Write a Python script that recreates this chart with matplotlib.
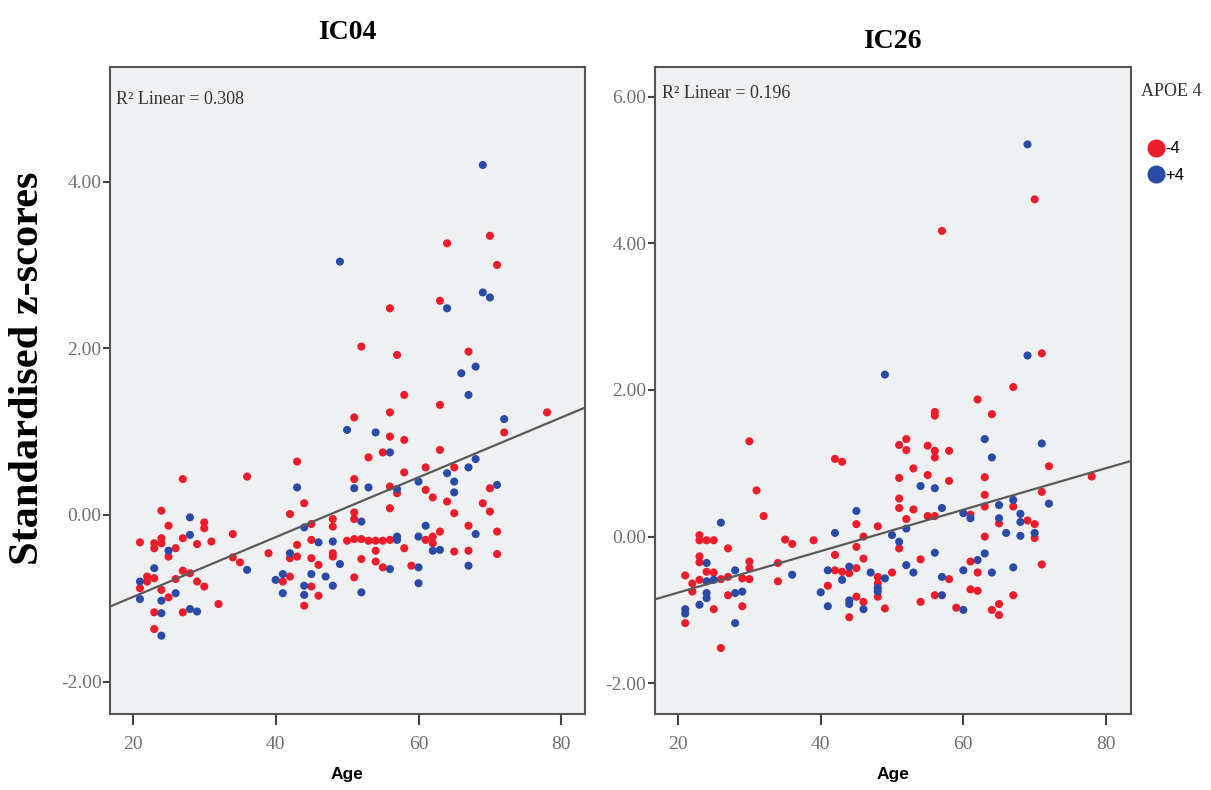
import matplotlib
matplotlib.use("Agg")
import matplotlib.pyplot as plt
from matplotlib.lines import Line2D
import numpy as np

# (age, standardised z), one list per panel and APOE 4 group
ic04_neg = [(64, 3.26), (70, 3.35), (71, 3.0), (63, 2.57), (56, 2.48), (52, 2.02), (57, 1.92), (67, 1.96),
            (58, 1.44), (63, 1.32), (51, 1.17), (56, 1.23), (56, 0.94), (58, 0.90), (72, 0.99), (78, 1.23),
            (55, 0.75), (53, 0.69), (63, 0.78), (65, 0.57), (61, 0.57), (58, 0.51), (43, 0.64), (27, 0.43),
            (36, 0.46), (51, 0.43), (56, 0.34), (57, 0.26), (61, 0.30), (62, 0.21), (64, 0.16), (70, 0.32),
            (69, 0.14), (70, 0.04), (56, 0.08), (65, 0.02), (44, 0.14), (42, 0.01), (24, 0.05), (51, 0.03),
            (51, -0.05), (48, -0.05), (30, -0.09), (30, -0.16), (25, -0.13), (45, -0.11), (48, -0.14),
            (67, -0.13), (71, -0.20), (63, -0.20), (34, -0.23), (62, -0.26), (56, -0.30), (55, -0.31),
            (54, -0.31), (53, -0.31), (52, -0.29), (51, -0.29), (50, -0.31), (45, -0.30), (27, -0.28),
            (26, -0.40), (24, -0.28), (24, -0.34), (23, -0.34), (23, -0.40), (21, -0.33), (29, -0.35),
            (31, -0.32), (25, -0.50), (61, -0.30), (62, -0.34), (58, -0.40), (65, -0.44), (67, -0.43),
            (71, -0.47), (54, -0.43), (48, -0.46), (48, -0.50), (43, -0.36), (39, -0.46), (43, -0.50),
            (42, -0.52), (45, -0.52), (34, -0.51), (35, -0.57), (46, -0.60), (52, -0.53), (54, -0.56),
            (55, -0.63), (59, -0.61), (27, -0.67), (28, -0.70), (26, -0.77), (22, -0.74), (23, -0.76),
            (22, -0.80), (21, -0.88), (29, -0.80), (30, -0.86), (24, -0.90), (25, -0.99), (23, -1.17),
            (27, -1.17), (32, -1.07), (23, -1.37), (41, -0.80), (42, -0.74), (45, -0.86), (44, -1.09),
            (46, -0.97), (51, -0.75)]
ic04_pos = [(69, 4.2), (49, 3.04), (69, 2.67), (70, 2.61), (64, 2.48), (68, 1.78), (66, 1.70),
            (67, 1.44), (50, 1.02), (54, 0.99), (72, 1.15), (56, 0.75), (68, 0.67), (67, 0.57), (64, 0.50),
            (60, 0.40), (65, 0.40), (65, 0.27), (43, 0.33), (51, 0.32), (53, 0.33), (57, 0.31), (71, 0.36),
            (28, -0.03), (52, -0.08), (44, -0.15), (61, -0.13), (28, -0.24), (68, -0.23), (60, -0.26),
            (57, -0.26), (57, -0.30), (48, -0.32), (46, -0.33), (25, -0.43), (62, -0.43), (63, -0.42),
            (42, -0.46), (36, -0.66), (49, -0.59), (56, -0.65), (60, -0.63), (67, -0.61), (23, -0.64),
            (21, -0.80), (21, -1.01), (24, -1.03), (26, -0.94), (24, -1.18), (28, -1.13), (29, -1.16),
            (24, -1.45), (40, -0.78), (41, -0.71), (41, -0.94), (44, -0.85), (44, -0.96), (45, -0.71),
            (47, -0.74), (48, -0.85), (52, -0.93), (60, -0.82)]

ic26_neg = [(70, 4.60), (57, 4.17), (71, 2.50), (67, 2.04), (62, 1.87), (64, 1.67), (56, 1.70), (56, 1.65),
            (30, 1.30), (51, 1.25), (52, 1.33), (52, 1.18), (55, 1.24), (56, 1.17), (56, 1.08), (58, 1.17),
            (42, 1.06), (43, 1.02), (53, 0.93), (51, 0.80), (55, 0.84), (58, 0.76), (63, 0.81), (72, 0.96),
            (78, 0.82), (31, 0.63), (63, 0.57), (71, 0.61), (51, 0.52), (51, 0.39), (53, 0.37), (63, 0.41),
            (67, 0.41), (32, 0.28), (55, 0.28), (56, 0.28), (52, 0.24), (61, 0.30), (65, 0.18), (69, 0.22),
            (70, 0.17), (45, 0.17), (48, 0.14), (51, -0.16), (70, -0.02), (63, 0.0), (23, 0.02), (23, -0.05),
            (24, -0.05), (25, -0.05), (35, -0.04), (36, -0.10), (39, -0.05), (46, 0.0), (45, -0.14),
            (27, -0.16), (54, -0.31), (42, -0.25), (46, -0.30), (23, -0.27), (23, -0.35), (61, -0.34),
            (30, -0.34), (30, -0.43), (34, -0.36), (24, -0.48), (25, -0.49), (21, -0.53), (27, -0.55),
            (26, -0.58), (22, -0.64), (22, -0.75), (23, -0.59), (29, -0.57), (30, -0.58), (34, -0.61),
            (42, -0.46), (43, -0.48), (44, -0.50), (45, -0.43), (41, -0.67), (48, -0.55), (50, -0.49),
            (48, -0.64), (48, -0.82), (58, -0.58), (62, -0.49), (71, -0.38), (61, -0.72), (62, -0.74),
            (56, -0.80), (67, -0.80), (54, -0.89), (45, -0.82), (46, -0.89), (49, -0.98), (44, -1.10),
            (59, -0.97), (64, -1.00), (65, -0.92), (65, -1.07), (25, -0.99), (27, -0.80), (29, -0.95),
            (21, -1.18), (26, -1.52)]
ic26_pos = [(69, 5.35), (69, 2.47), (49, 2.21), (63, 1.33), (64, 1.08), (71, 1.27), (54, 0.69), (56, 0.66),
            (72, 0.45), (57, 0.39), (65, 0.43), (67, 0.50), (45, 0.35), (60, 0.32), (61, 0.25), (65, 0.25),
            (68, 0.31), (68, 0.20), (26, 0.19), (52, 0.11), (50, 0.02), (51, -0.07), (66, 0.05), (68, 0.01),
            (70, 0.05), (42, 0.05), (56, -0.22), (24, -0.36), (63, -0.23), (62, -0.32), (52, -0.39),
            (53, -0.49), (28, -0.46), (24, -0.61), (25, -0.59), (36, -0.52), (41, -0.46), (44, -0.41),
            (43, -0.59), (40, -0.76), (47, -0.49), (49, -0.57), (48, -0.70), (48, -0.75), (57, -0.55),
            (60, -0.46), (64, -0.49), (67, -0.42), (57, -0.80), (44, -0.87), (44, -0.92), (46, -0.99),
            (41, -0.95), (60, -1.00), (23, -0.93), (24, -0.84), (24, -0.77), (28, -0.77), (29, -0.75),
            (28, -1.18), (21, -0.99), (21, -1.05)]

titles = ["IC04", "IC26"]
r2_labels = ["R\u00b2 Linear = 0.308", "R\u00b2 Linear = 0.196"]
yticks = [[-2, 0, 2, 4], [-2, 0, 2, 4, 6]]
xticks = [20, 40, 60, 80]
group_labels = ["-4", "+4"]

RED = "#ec1c2a"
BLUE = "#2a4aa8"
SERIF = "Liberation Serif"
SANS = "Liberation Sans"

fig = plt.figure(figsize=(12.11, 7.9), dpi=100)
axes = [fig.add_axes([0.0908, 0.0962, 0.3922, 0.8194]),
        fig.add_axes([0.5405, 0.0962, 0.3931, 0.8194])]
xlims = [(16.8, 83.3), (16.7, 83.45)]
ylims = [(-2.39, 5.38), (-2.42, 6.41)]
r2_pos = [(0.012, 0.949), (0.016, 0.959)]
title_y = [0.959, 0.947]

for i, (ax, neg, pos) in enumerate(zip(axes, [ic04_neg, ic26_neg], [ic04_pos, ic26_pos])):
    neg = np.array(neg)
    pos = np.array(pos)
    ax.set_facecolor("#eff0f2")
    ax.scatter(neg[:, 0], neg[:, 1], s=34, color=RED, edgecolors="none", zorder=3)
    ax.scatter(pos[:, 0], pos[:, 1], s=34, color=BLUE, edgecolors="none", zorder=3)

    # linear fit over all subjects
    allpts = np.vstack([neg, pos])
    slope, icept = np.polyfit(allpts[:, 0], allpts[:, 1], 1)
    xx = np.array(xlims[i])
    ax.plot(xx, icept + slope * xx, color="#5a5a5a", lw=1.6, zorder=4)

    ax.set_xlim(xlims[i])
    ax.set_ylim(ylims[i])
    ax.set_xticks(xticks)
    ax.set_yticks(yticks[i])
    ax.set_yticklabels(["%.2f" % v for v in yticks[i]])
    for lab in ax.get_xticklabels() + ax.get_yticklabels():
        lab.set_fontfamily(SERIF)
        lab.set_fontsize(14)
        lab.set_color("#707070")
    ax.tick_params(axis="x", length=8, width=1.5, color="#444444", pad=8)
    ax.tick_params(axis="y", length=5, width=1.5, color="#444444", pad=1)
    for sp in ax.spines.values():
        sp.set_color("#555555")
        sp.set_linewidth(1.5)
    ax.set_xlabel("Age", fontfamily=SANS, fontweight="bold", fontsize=12.5, labelpad=10)
    ax.text(r2_pos[i][0], r2_pos[i][1], r2_labels[i], transform=ax.transAxes,
            fontfamily=SERIF, fontsize=13, color="#333333", va="center", ha="left")
    fig.text(ax.get_position().x0 + ax.get_position().width / 2, title_y[i], titles[i],
             fontfamily=SERIF, fontweight="bold", fontsize=20, ha="center", va="center")

fig.text(0.0235, 0.534, "Standardised z-scores", rotation=90, fontfamily=SERIF,
         fontweight="bold", fontsize=30.5, ha="center", va="center")

# legend to the right of the IC26 panel
fig.text(1141 / 1211, 1 - 92 / 790, "APOE 4", fontfamily=SERIF, fontsize=13,
         color="#333333", ha="left", va="center")
handles = [Line2D([], [], marker="o", linestyle="", markersize=12, color=c) for c in (RED, BLUE)]
fig.legend(handles, group_labels, loc="upper left", bbox_to_anchor=(1139 / 1211, 1 - 133 / 790),
           frameon=False, handlelength=1.0, handletextpad=0.1, labelspacing=0.7, borderpad=0,
           prop={"family": SANS, "size": 12})

fig.savefig("out.png", dpi=100)
